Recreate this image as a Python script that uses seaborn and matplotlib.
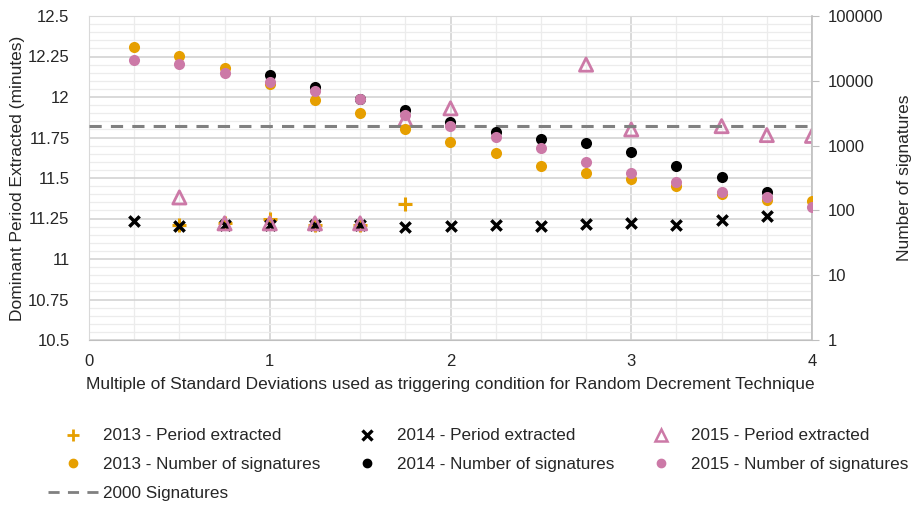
import numpy as np
import pandas as pd
import matplotlib
matplotlib.use("Agg")
import matplotlib.pyplot as plt
import seaborn as sns
from matplotlib.lines import Line2D
from matplotlib.ticker import FixedLocator, MultipleLocator, FuncFormatter

# ---------------- data ----------------
std_mult = [0.25, 0.5, 0.75, 1.0, 1.25, 1.5, 1.75, 2.0,
            2.25, 2.5, 2.75, 3.0, 3.25, 3.5, 3.75, 4.0]
nan = np.nan
period_2013 = [nan, 11.21, 11.22, 11.25, 11.21, 11.21, 11.34, nan,
               nan, nan, nan, nan, nan, nan, nan, nan]
period_2014 = [11.235, 11.205, 11.21, 11.21, 11.21, 11.21, 11.20, 11.205,
               11.21, 11.205, 11.215, 11.225, 11.21, 11.24, 11.265, nan]
period_2015 = [nan, 11.38, 11.22, 11.22, 11.22, 11.22, 11.86, 11.93,
               nan, nan, 12.20, 11.80, nan, 11.82, 11.765, 11.76]
sigs_2013 = [33600, 24200, 15600, 8900, 5100, 3200, 1820, 1150,
             760, 490, 380, 300, 240, 180, 145, 140]
sigs_2014 = [nan, nan, nan, 12300, 8100, 5300, 3500, 2340,
             1600, 1280, 1110, 800, 480, 330, 190, nan]
sigs_2015 = [20900, 17900, 13300, 9700, 7000, 5240, 2970, 2000,
             1370, 910, 565, 373, 274, 192, 163, 114]
threshold = 2000
left_ticks = [10.5, 10.75, 11, 11.25, 11.5, 11.75, 12, 12.25, 12.5]
right_ticks = [1, 10, 100, 1000, 10000, 100000]
x_ticks = [0, 1, 2, 3, 4]

ORANGE = "#E69F00"
BLACK = "#000000"
PINK = "#CC79A7"
TXT = "#262626"
FS = 12.5
LFS = 12.3

plt.rcParams["font.family"] = ["Liberation Sans", "DejaVu Sans"]
plt.rcParams["font.size"] = FS

df = pd.DataFrame({"x": std_mult,
                   "p13": period_2013, "p14": period_2014, "p15": period_2015,
                   "n13": sigs_2013, "n14": sigs_2014, "n15": sigs_2015})

fig = plt.figure(figsize=(9.14, 5.05), dpi=100)
ax = fig.add_axes([89 / 914, 1 - 340 / 505, (812 - 89) / 914, (340 - 16) / 505])
ax2 = ax.twinx()

# period extracted (left axis)
sns.scatterplot(data=df, x="x", y="p13", ax=ax, marker="+", color=ORANGE,
                s=110, linewidth=2.2, zorder=3)
sns.scatterplot(data=df, x="x", y="p14", ax=ax, marker="x", color=BLACK,
                s=55, linewidth=2.5, zorder=4)
sns.scatterplot(data=df, x="x", y="p15", ax=ax, marker="^", facecolor="none",
                edgecolor=PINK, s=90, linewidth=2.0, zorder=5)

# number of signatures (right axis, log)
sns.scatterplot(data=df, x="x", y="n13", ax=ax2, marker="o", color=ORANGE,
                s=64, linewidth=0, zorder=3)
sns.scatterplot(data=df, x="x", y="n14", ax=ax2, marker="o", color=BLACK,
                s=64, linewidth=0, zorder=4)
sns.scatterplot(data=df, x="x", y="n15", ax=ax2, marker="o", color=PINK,
                s=64, linewidth=0, zorder=5)
ax2.axhline(threshold, color="#808080", linestyle=(0, (4, 3)), linewidth=2.2, zorder=2)

# axes limits / ticks
ax.set_xlim(0, 4)
ax.set_ylim(10.5, 12.5)
ax.xaxis.set_major_locator(FixedLocator(x_ticks))
ax.xaxis.set_minor_locator(MultipleLocator(0.25))
ax.yaxis.set_major_locator(FixedLocator(left_ticks))
ax.yaxis.set_minor_locator(MultipleLocator(0.05))
ax.yaxis.set_major_formatter(FuncFormatter(lambda v, p: f"{v:g}"))
ax.xaxis.set_major_formatter(FuncFormatter(lambda v, p: f"{v:g}"))

ax2.set_yscale("log")
ax2.set_ylim(1, 100000)
ax2.yaxis.set_major_locator(FixedLocator(right_ticks))
ax2.yaxis.set_minor_locator(FixedLocator([]))
ax2.yaxis.set_major_formatter(FuncFormatter(lambda v, p: f"{int(round(v))}"))

ax.grid(which="major", axis="both", color="#d0d0d0", linewidth=1.1)
ax.grid(which="minor", axis="both", color="#ececec", linewidth=0.9)
ax.set_axisbelow(True)
ax2.grid(False)

ax.tick_params(axis="both", which="both", length=0, colors=TXT, labelsize=12)
ax.tick_params(axis="x", pad=10)
ax.tick_params(axis="y", pad=14)
ax2.tick_params(axis="y", which="major", length=5, color="#bfbfbf",
                labelcolor=TXT, labelsize=12, pad=6)

for sp in ["left", "top"]:
    ax.spines[sp].set_color("#d9d9d9")
    ax2.spines[sp].set_visible(False)
ax.spines["right"].set_visible(False)
ax.spines["bottom"].set_color("#bfbfbf")
ax2.spines["bottom"].set_visible(False)
ax2.spines["right"].set_color("#bfbfbf")
ax2.spines["right"].set_linewidth(1.2)

ax.set_xlabel("Multiple of Standard Deviations used as triggering condition for Random Decrement Technique",
              fontsize=FS, color=TXT, labelpad=6)
ax.set_ylabel("Dominant Period Extracted (minutes)", fontsize=FS, color=TXT, labelpad=2)
ax2.set_ylabel("Number of signatures", fontsize=FS, color=TXT, labelpad=10)

# legend
handles = [
    Line2D([], [], marker="+", color=ORANGE, linestyle="none", markersize=9, markeredgewidth=2),
    Line2D([], [], marker="o", color=ORANGE, linestyle="none", markersize=6),
    Line2D([], [], color="#808080", linestyle=(0, (4, 3)), linewidth=2),
    Line2D([], [], marker="x", color=BLACK, linestyle="none", markersize=7, markeredgewidth=2.4),
    Line2D([], [], marker="o", color=BLACK, linestyle="none", markersize=6),
    Line2D([], [], marker="^", markerfacecolor="none", markeredgecolor=PINK,
           linestyle="none", markersize=8, markeredgewidth=1.8),
    Line2D([], [], marker="o", color=PINK, linestyle="none", markersize=6),
]
labels = ["2013 - Period extracted", "2013 - Number of signatures", "2000 Signatures",
          "2014 - Period extracted", "2014 - Number of signatures",
          "2015 - Period extracted", "2015 - Number of signatures"]
fig.legend(handles, labels, ncol=3, loc="upper left", bbox_to_anchor=(48 / 914, 1 - 428.5 / 505),
           frameon=False, fontsize=LFS, borderpad=0, borderaxespad=0,
           handlelength=2.93, handletextpad=0.3,
           columnspacing=1.25, labelspacing=0.8, labelcolor=TXT)

fig.savefig("out.png", dpi=100)
